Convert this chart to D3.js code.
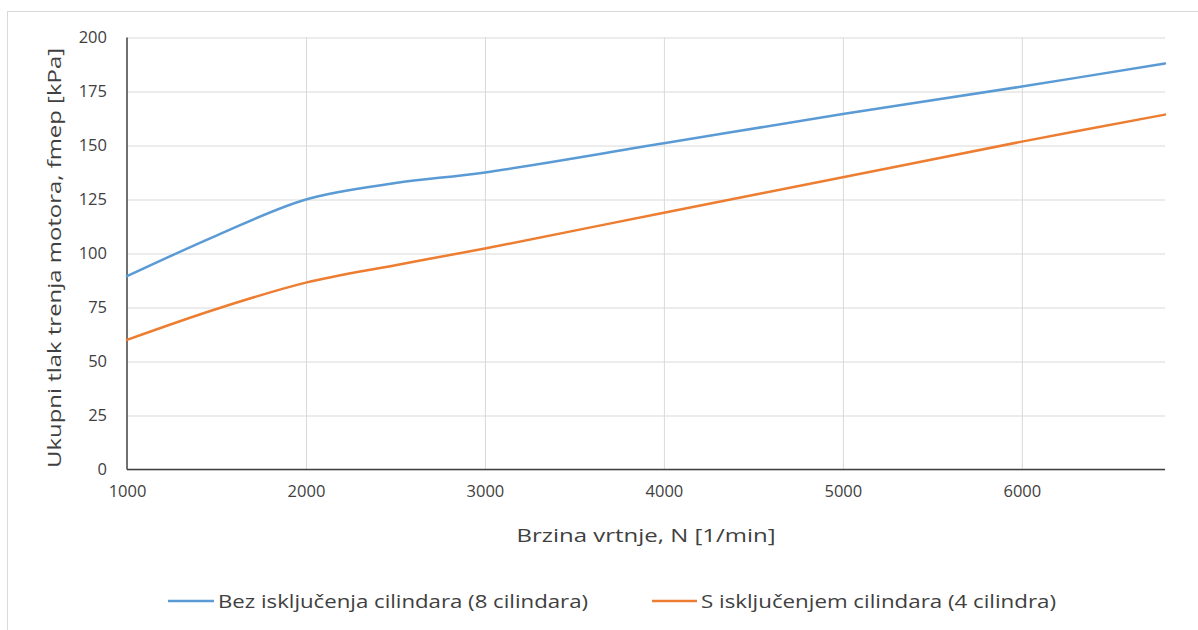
<!DOCTYPE html>
<html>
<head>
<meta charset="utf-8">
<script src="https://cdn.jsdelivr.net/npm/d3@7"></script>
<style>
  html, body { margin: 0; padding: 0; background: #fff; }
  svg { display: block; }
  text { fill: #404040; }
</style>
</head>
<body>
<svg id="chart" width="1198" height="630"></svg>
<script>
// ---- data ----
const speeds = [1000, 1500, 2000, 2500, 3000, 4000, 5000, 6000, 6800];
const fmep8 = [89.5, 108.3, 125, 132.6, 137.5, 151, 164.6, 177.3, 188];
const fmep4 = [60, 74.3, 86.5, 94.6, 102.3, 118.9, 135.3, 151.8, 164.3];
const xTicks = [1000, 2000, 3000, 4000, 5000, 6000];
const yTicks = [0, 25, 50, 75, 100, 125, 150, 175, 200];
const seriesNames = ["Bez isključenja cilindara (8 cilindara)", "S isključenjem cilindara (4 cilindra)"];
const seriesColors = ["#5B9BD5", "#ED7D31"];
const xTitle = "Brzina vrtnje, N [1/min]";
const yTitle = "Ukupni tlak trenja motora, fmep [kPa]";

const svg = d3.select("#chart");
const W = 1198, H = 630;
const plot = { left: 127, right: 1165, top: 37.5, bottom: 469.5 };

// outer chart border
svg.append("rect")
  .attr("x", 7.5).attr("y", 11.5)
  .attr("width", W + 10).attr("height", H + 10)
  .attr("fill", "none").attr("stroke", "#D9D9D9").attr("stroke-width", 1);

const x = d3.scaleLinear().domain([1000, 6800]).range([plot.left, plot.right]);
const y = d3.scaleLinear().domain([0, 200]).range([plot.bottom, plot.top]);

const font = "'Open Sans', 'Noto Sans', sans-serif";

// gridlines (horizontal)
const gy = svg.append("g")
  .attr("transform", `translate(${plot.left},0)`)
  .call(d3.axisLeft(y).tickValues(yTicks).tickSize(-(plot.right - plot.left)).tickFormat(""));
gy.select(".domain").remove();
gy.selectAll("line").attr("stroke", "#D9D9D9").attr("stroke-width", 1);

// gridlines (vertical)
const gx = svg.append("g")
  .attr("transform", `translate(0,${plot.bottom})`)
  .call(d3.axisBottom(x).tickValues(xTicks.filter(d => d !== 1000)).tickSize(-(plot.bottom - plot.top)).tickFormat(""));
gx.select(".domain").remove();
gx.selectAll("line").attr("stroke", "#D9D9D9").attr("stroke-width", 1);

// y axis labels
const ay = svg.append("g")
  .attr("transform", `translate(${plot.left},0)`)
  .call(d3.axisLeft(y).tickValues(yTicks).tickSize(0).tickPadding(20).tickFormat(d3.format("d")));
ay.select(".domain").remove();
ay.selectAll("text").attr("font-family", font).attr("font-size", 16.5).attr("fill", "#404040");

// x axis labels
const ax = svg.append("g")
  .attr("transform", `translate(0,${plot.bottom})`)
  .call(d3.axisBottom(x).tickValues(xTicks).tickSize(0).tickPadding(16).tickFormat(d3.format("d")));
ax.select(".domain").remove();
ax.selectAll("text").attr("font-family", font).attr("font-size", 16.5).attr("fill", "#404040");

// axis lines
svg.append("line")
  .attr("x1", plot.left).attr("x2", plot.left)
  .attr("y1", plot.top).attr("y2", plot.bottom)
  .attr("stroke", "#404040").attr("stroke-width", 1.5);
svg.append("line")
  .attr("x1", plot.left).attr("x2", plot.right)
  .attr("y1", plot.bottom).attr("y2", plot.bottom)
  .attr("stroke", "#404040").attr("stroke-width", 1.5);

// series lines
const line = d3.line().x(d => x(d[0])).y(d => y(d[1])).curve(d3.curveCatmullRom.alpha(0.5));
[fmep8, fmep4].forEach((vals, i) => {
  svg.append("path")
    .datum(speeds.map((s, j) => [s, vals[j]]))
    .attr("fill", "none")
    .attr("stroke", seriesColors[i])
    .attr("stroke-width", 2.5)
    .attr("stroke-linecap", "round")
    .attr("d", line);
});

// axis titles
svg.append("text")
  .attr("x", 646).attr("y", 542)
  .attr("text-anchor", "middle")
  .attr("font-family", font).attr("font-size", 19)
  .attr("textLength", 259).attr("lengthAdjust", "spacingAndGlyphs")
  .text(xTitle);

svg.append("text")
  .attr("transform", "translate(61,258) rotate(-90)")
  .attr("text-anchor", "middle")
  .attr("font-family", font).attr("font-size", 19)
  .attr("textLength", 420).attr("lengthAdjust", "spacingAndGlyphs")
  .text(yTitle);

// legend
const legend = [
  { x1: 168, x2: 214, tx: 218, tl: 370 },
  { x1: 652, x2: 697, tx: 701, tl: 355 }
];
legend.forEach((l, i) => {
  svg.append("line")
    .attr("x1", l.x1).attr("x2", l.x2).attr("y1", 601).attr("y2", 601)
    .attr("stroke", seriesColors[i]).attr("stroke-width", 2.5);
  svg.append("text")
    .attr("x", l.tx).attr("y", 608)
    .attr("font-family", font).attr("font-size", 19)
    .attr("textLength", l.tl).attr("lengthAdjust", "spacingAndGlyphs")
    .text(seriesNames[i]);
});
</script>
</body>
</html>
